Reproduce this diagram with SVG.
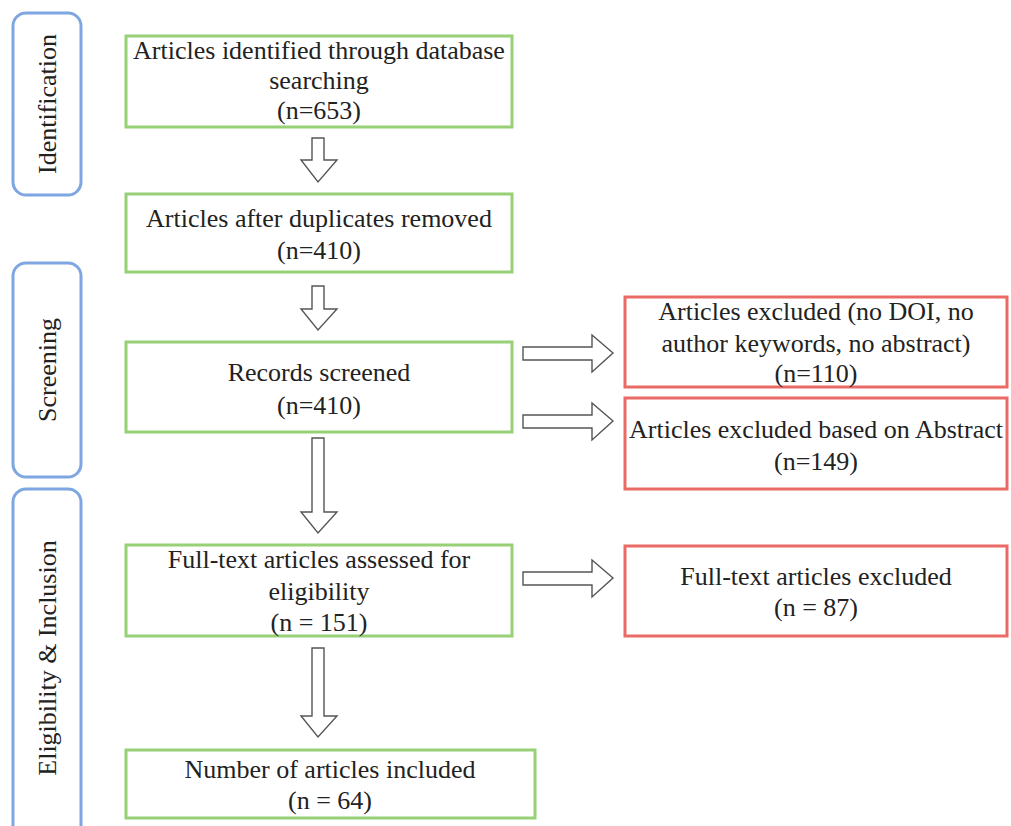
<svg xmlns="http://www.w3.org/2000/svg" width="1011" height="826" viewBox="0 0 1011 826">
<style>
.stage{fill:#fff;stroke:#7ea6e0;stroke-width:3}
.ok{fill:#fff;stroke:#97d077;stroke-width:3}
.ex{fill:#fff;stroke:#ea6b66;stroke-width:3}
.arr{fill:#fff;stroke:#555;stroke-width:1.4;stroke-linejoin:miter}
text{font-family:"Liberation Serif","Times New Roman",serif;font-size:26px;fill:#222;text-anchor:middle}
</style>
<rect width="1011" height="826" fill="#fff"/>
<g id="stage-identification">
<rect class="stage" x="13" y="13" width="68" height="182" rx="13"/>
<text transform="translate(56,104) rotate(-90)">Identification</text>
</g>
<g id="stage-screening">
<rect class="stage" x="13" y="263" width="68" height="214" rx="13"/>
<text transform="translate(56,370) rotate(-90)">Screening</text>
</g>
<g id="stage-eligibility">
<rect class="stage" x="13" y="489" width="68" height="360" rx="13"/>
<text transform="translate(56,658) rotate(-90)">Eligibility &amp; Inclusion</text>
</g>
<g id="connectors">
<polygon class="arr" points="312,138 324,138 324,160 337,160 318,182 301,160 312,160"/>
<polygon class="arr" points="312,286 324,286 324,309 337,309 318,330 301,309 312,309"/>
<polygon class="arr" points="312,438 324,438 324,512 337,512 318,533 301,512 312,512"/>
<polygon class="arr" points="312,648 324,648 324,716 337,716 318,737 301,716 312,716"/>
<polygon class="arr" points="523,347 592,347 592,335 613,353 592,372 592,360 523,360"/>
<polygon class="arr" points="523,415 592,415 592,403 613,421 592,440 592,428 523,428"/>
<polygon class="arr" points="523,572 592,572 592,560 613,578 592,597 592,585 523,585"/>
</g>
<g id="n-identified">
<rect class="ok" x="126" y="36" width="386" height="91"/>
<text x="319" y="59">Articles identified through database</text>
<text x="319" y="89">searching</text>
<text x="319" y="119">(n=653)</text>
</g>
<g id="n-duplicates">
<rect class="ok" x="126" y="194" width="386" height="78"/>
<text x="319" y="227">Articles after duplicates removed</text>
<text x="319" y="259">(n=410)</text>
</g>
<g id="n-screened">
<rect class="ok" x="126" y="342" width="386" height="90"/>
<text x="319" y="381">Records screened</text>
<text x="319" y="414">(n=410)</text>
</g>
<g id="n-fulltext">
<rect class="ok" x="126" y="545" width="386" height="91"/>
<text x="319" y="568">Full-text articles assessed for</text>
<text x="319" y="600">eligibility</text>
<text x="319" y="631">(n = 151)</text>
</g>
<g id="n-included">
<rect class="ok" x="126" y="750" width="409" height="68"/>
<text x="330" y="778">Number of articles included</text>
<text x="330" y="809">(n = 64)</text>
</g>
<g id="x-nodoi">
<rect class="ex" x="625" y="297" width="382" height="90"/>
<text x="816" y="320">Articles excluded (no DOI, no</text>
<text x="816" y="352">author keywords, no abstract)</text>
<text x="816" y="382">(n=110)</text>
</g>
<g id="x-abstract">
<rect class="ex" x="625" y="398" width="382" height="91"/>
<text x="816" y="438">Articles excluded based on Abstract</text>
<text x="816" y="470">(n=149)</text>
</g>
<g id="x-fulltext">
<rect class="ex" x="625" y="546" width="382" height="90"/>
<text x="816" y="585">Full-text articles excluded</text>
<text x="816" y="616">(n = 87)</text>
</g>
</svg>
